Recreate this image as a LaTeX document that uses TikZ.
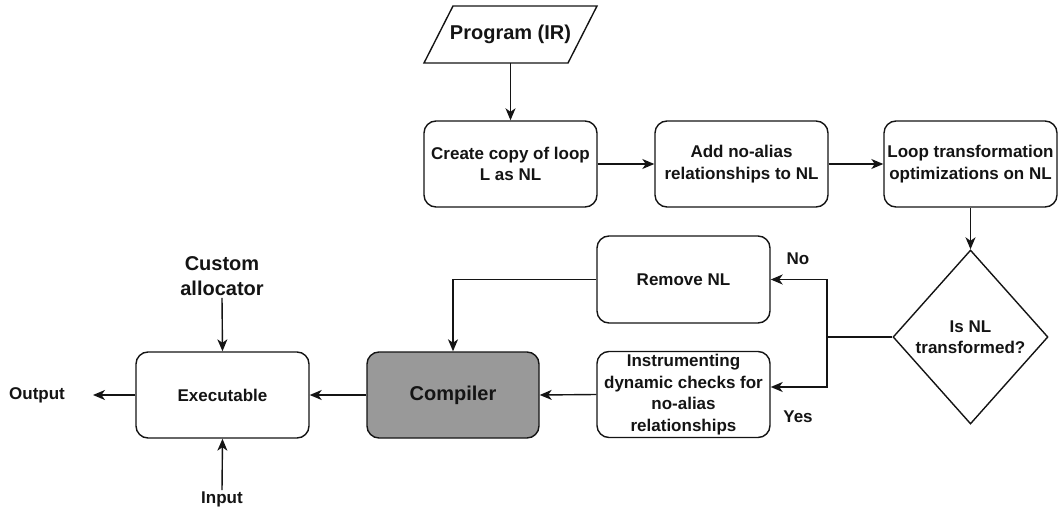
\documentclass[tikz,border=0pt]{standalone}
\usepackage{fontspec}
\setmainfont{Liberation Sans}
\usetikzlibrary{arrows.meta,shapes.geometric,calc}
\definecolor{ink}{RGB}{20,20,20}
\definecolor{compgray}{RGB}{153,153,153}
\begin{document}
\begin{tikzpicture}[x=1pt,y=-1pt,
  every node/.style={font=\bfseries\fontsize{17}{21.5}\selectfont, text=ink, align=center},
  box/.style={draw=ink, line width=1.4pt, rounded corners=12pt, minimum width=173pt, minimum height=86pt, inner sep=2pt},
  big/.style={font=\bfseries\fontsize{20}{25}\selectfont},
  conn/.style={draw=ink, line width=1.4pt, -{Stealth[length=12pt,width=10pt,inset=3.5pt]}},
  link/.style={draw=ink, line width=1.4pt}]
\useasboundingbox (0,0) rectangle (1062,513);

% input parallelogram
\draw[ink, line width=1.4pt, line join=miter] (424,63) -- (453,6) -- (597,6) -- (568,63) -- cycle;
\node[big, minimum height=57pt, minimum width=100pt, inner sep=0pt] (prog) at (510.5,34.5) {Program (IR)};

% top row
\node[box] (copy)  at (510.5,164) {Create copy of loop\\L as NL};
\node[box] (alias) at (741.5,164) {Add no-alias\\relationships to NL};
\node[box] (opt)   at (970.5,164) {Loop transformation\\optimizations on NL};

% decision
\node[diamond, draw=ink, line width=1.4pt, minimum width=155pt, minimum height=174pt, inner sep=0pt] (dec) at (970.5,337) {};
\node at (dec) {Is NL\\transformed?};

% branches
\node[box, minimum height=87pt] (remove) at (683.5,279.5) {Remove NL};
\node[box] (instr) at (683.5,394.5) {Instrumenting\\dynamic checks for\\no-alias\\relationships};

% compiler and executable
\node[box, fill=compgray, minimum width=172pt] (comp) at (453,395) {\fontsize{20}{24}\selectfont Compiler};
\node[box] (exec) at (222.5,395) {Executable};

% free labels
\node[big, inner sep=2pt] (alloc) at (222,276) {Custom\\allocator};
\node[inner sep=1pt] (inp) at (222,499) {Input};
\node (outp) at (37,395) {Output};
\node (no)  at (798,259) {No};
\node (yes) at (798,417) {Yes};
\coordinate (outend) at (93,395);
\coordinate (split) at (827,337);
\coordinate (instrin) at ($(instr.east)+(0,-7.5)$);

% connectors
\draw[conn] (prog.south) -- (copy.north);
\draw[conn] (copy.east) -- (alias.west);
\draw[conn] (alias.east) -- (opt.west);
\draw[conn] (opt.south) -- (dec.north);
\draw[link] (dec.west) -- (split);
\draw[conn] (split) |- (remove.east);
\draw[conn] (split) |- (instrin);
\draw[conn] (remove.west) -| (comp.north);
\draw[conn] (instr.west) -- (comp.east);
\draw[conn] (comp.west) -- (exec.east);
\draw[conn] (exec.west) -- (outend);
\draw[conn] (alloc.south) -- (exec.north);
\draw[conn] (inp.north) -- (exec.south);
\end{tikzpicture}
\end{document}
